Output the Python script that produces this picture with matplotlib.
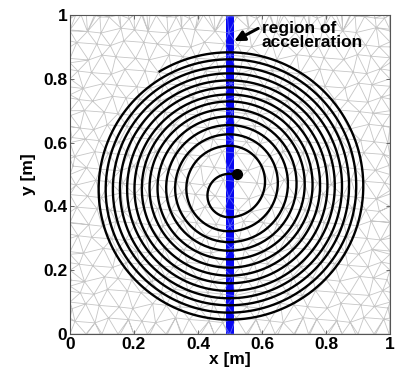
import numpy as np
import matplotlib
matplotlib.use("Agg")
import matplotlib.pyplot as plt
from matplotlib.tri import Triangulation
from matplotlib.patches import Rectangle

plt.rcParams['font.family'] = ['Liberation Sans', 'DejaVu Sans']

# ---- data ----
# y where the orbit crosses the acceleration gap (x ~ 0.4975) at the top / bottom
top_crossings = [0.502, 0.590, 0.626, 0.655, 0.682, 0.706, 0.729, 0.751,
                 0.773, 0.795, 0.817, 0.839, 0.861, 0.883]
bottom_crossings = [0.366, 0.322, 0.288, 0.261, 0.234, 0.208, 0.183, 0.159,
                    0.135, 0.112, 0.090, 0.067, 0.045]
gap_x = 0.4975
start_point = (0.521, 0.502)
final_radius = 0.425
end_x = 0.28
band_left, band_right = 0.4875, 0.5125
ticks = [0, 0.2, 0.4, 0.6, 0.8, 1]
tick_labels = ['0', '0.2', '0.4', '0.6', '0.8', '1']

# ---- figure ----
fig = plt.figure(figsize=(3.96, 3.84), dpi=100)
ax = fig.add_axes([70/396, 50/384, 320/396, 319/384])
ax.set_xlim(0, 1)
ax.set_ylim(0, 1)

# background triangular mesh (decorative texture)
sp = 0.05
pts = []
nrow = int(1.0 / (sp * 0.866)) + 2
for j in range(nrow + 1):
    y = min(j * sp * 0.866, 1.0)
    off = 0.5 * sp if j % 2 else 0.0
    xs = np.arange(-off, 1.0 + sp, sp)
    for i, x in enumerate(xs):
        jx = 0.4 * sp * (((i * 0.6180339 + j * 0.4142135) % 1.0) - 0.5)
        jy = 0.4 * sp * (((i * 0.7548776 + j * 0.5698403) % 1.0) - 0.5)
        px = min(max(x + jx, 0.0), 1.0)
        py = y + jy if 0 < j < nrow else y
        py = min(max(py, 0.0), 1.0)
        pts.append((px, py))
for t in np.linspace(0, 1, 21):
    pts += [(t, 0.0), (t, 1.0), (0.0, t), (1.0, t)]
pts = np.unique(np.round(np.array(pts), 4), axis=0)
tri = Triangulation(pts[:, 0], pts[:, 1])
ax.triplot(tri, color='#bcbcbc', lw=0.6, alpha=0.85, zorder=1)

# acceleration band (solid blue, mesh faintly visible through it)
ax.axvspan(band_left, band_right, color='#0808f2', zorder=2, lw=0)
band_clip = Rectangle((band_left, 0), band_right - band_left, 1,
                      transform=ax.transData, facecolor='none', edgecolor='none')
ax.add_patch(band_clip)
for ln in ax.triplot(tri, color='#9aa8ff', lw=0.6, alpha=0.55, zorder=2.5):
    ln.set_clip_path(band_clip)

# orbit built from semicircles between gap crossings
xs_path = [start_point[0]]
ys_path = [start_point[1]]
n = len(bottom_crossings)
for k in range(n):
    t = top_crossings[k]
    b = bottom_crossings[k]
    c = 0.5 * (t + b); r = 0.5 * (t - b)
    a = np.linspace(np.pi / 2, 3 * np.pi / 2, 80)
    xs_path += list(gap_x + r * np.cos(a)); ys_path += list(c + r * np.sin(a))
    t2 = top_crossings[k + 1]
    c = 0.5 * (t2 + b); r = 0.5 * (t2 - b)
    a = np.linspace(-np.pi / 2, np.pi / 2, 80)
    xs_path += list(gap_x + r * np.cos(a)); ys_path += list(c + r * np.sin(a))
# final partial arc
t = top_crossings[-1]
c = t - final_radius
a_end = np.pi - np.arccos((gap_x - end_x) / final_radius)
a = np.linspace(np.pi / 2, a_end, 30)
xs_path += list(gap_x + final_radius * np.cos(a)); ys_path += list(c + final_radius * np.sin(a))
ax.plot(xs_path, ys_path, color='black', lw=1.7, zorder=3)
ax.plot([start_point[0]], [start_point[1]], 'o', color='black', ms=7, zorder=4)

# annotation
ax.text(0.60, 0.935, 'region of\nacceleration', fontsize=12.5, fontweight='bold',
        ha='left', va='center', linespacing=0.95, zorder=5)
ax.annotate('', xy=(0.513, 0.918), xytext=(0.588, 0.958),
            arrowprops=dict(arrowstyle='-|>', color='black', lw=2.2,
                            mutation_scale=15, shrinkA=0, shrinkB=0),
            zorder=5)

ax.set_xticks(ticks)
ax.set_xticklabels(tick_labels)
ax.set_yticks(ticks)
ax.set_yticklabels(tick_labels)
ax.tick_params(direction='in', length=3, width=0.6, top=True, right=True,
               labelsize=12.5, pad=2, color='#555555')
for lab in ax.get_xticklabels() + ax.get_yticklabels():
    lab.set_fontweight('bold')
for s in ax.spines.values():
    s.set_color('#555555')
    s.set_linewidth(0.8)
    s.set_zorder(6)
ax.set_xlabel('x [m]', fontsize=12.5, fontweight='bold', labelpad=0)
ax.set_ylabel('y [m]', fontsize=12.5, fontweight='bold', labelpad=5)

fig.savefig('out.png', dpi=100)
